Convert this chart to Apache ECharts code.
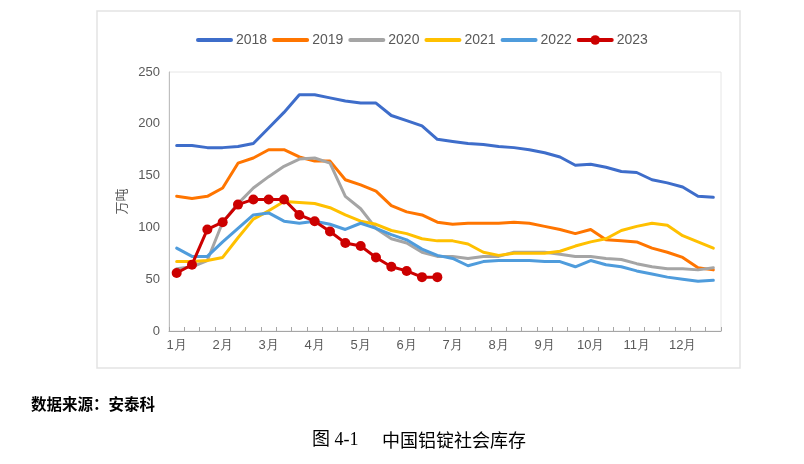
<!DOCTYPE html>
<html><head><meta charset="utf-8">
<script src="https://cdn.jsdelivr.net/npm/echarts@6/dist/echarts.min.js"></script>
<style>html,body{margin:0;padding:0;background:#fff;}#c{width:804px;height:464px;}</style>
</head><body><div id="c"></div>
<script>
const months = ['1月','2月','3月','4月','5月','6月','7月','8月','9月','10月','11月','12月'];
const categories = [];
for (let m = 0; m < 12; m++) { categories.push(months[m] + '上', months[m] + '中', months[m] + '下'); }
const yTicks = [0, 50, 100, 150, 200, 250];
const s2018 = [179,179,177,177,178,181,196,211,228,228,225,222,220,220,208,203,198,185,183,181,180,178,177,175,172,168,160,161,158,154,153,146,143,139,130,129];
const s2019 = [130,128,130,138,162,167,175,175,168,164,164,146,141,135,121,115,112,105,103,104,104,104,105,104,101,98,94,98,88,87,86,80,76,71,61,59];
const s2020 = [60,62,68,105,123,138,149,159,166,167,162,130,118,99,89,85,76,72,72,70,72,72,76,76,76,74,72,72,70,69,65,62,60,60,59,61];
const s2021 = [67,67,68,71,90,108,116,125,124,123,119,112,106,103,97,94,89,87,87,84,76,73,75,75,75,77,82,86,89,97,101,104,102,92,86,80];
const s2022 = [80,72,72,86,99,112,114,106,104,106,103,98,104,99,93,88,79,73,70,63,67,68,68,68,67,67,62,68,64,62,58,55,52,50,48,49];
const s2023 = [56,64,98,105,122,127,127,127,112,106,96,85,82,71,62,58,52,52];
const names = ['2018','2019','2020','2021','2022','2023'];
const colors = ['#3E6DCA','#FF7500','#A5A5A5','#FFC000','#4F9CDC','#CC0000'];
const seriesData = [s2018, s2019, s2020, s2021, s2022, s2023];

const chart = echarts.init(document.getElementById('c'));
const series = names.map((n, i) => ({
  name: n,
  type: 'line',
  data: seriesData[i],
  symbol: i === 5 ? 'circle' : 'none',
  symbolSize: 10,
  showSymbol: i === 5,
  lineStyle: { width: 3, color: colors[i], cap: 'round', join: 'round' },
  itemStyle: { color: colors[i] },
  z: i === 5 ? 10 : 2 + i,
  animation: false
}));
const legendData = names.map((n, i) => i === 5
  ? { name: n }
  : { name: n, itemStyle: { color: 'rgba(0,0,0,0)', borderWidth: 0, opacity: 0 } });
chart.setOption({
  animation: false,
  backgroundColor: '#fff',
  graphic: [
    { type: 'rect', shape: { x: 97, y: 11, width: 643, height: 357 }, style: { fill: 'none', stroke: '#e3e3e3', lineWidth: 1.5 }, silent: true },
    { type: 'text', left: 31, top: 396, style: { text: '数据来源：安泰科', font: 'bold 15.5px "Noto Sans CJK SC"', fill: '#000' } },
    { type: 'text', left: 312, top: 431, style: { text: '{a|图 4-1}', rich: { a: { font: '18px "Liberation Serif", "Noto Sans CJK SC"', fill: '#000' } } } },
    { type: 'text', left: 382, top: 431, style: { text: '中国铝锭社会库存', font: '18px "Noto Sans CJK SC"', fill: '#000' } }
  ],
  legend: {
    top: 28, left: 191,
    itemWidth: 33, itemHeight: 12, itemGap: 5,
    lineStyle: { width: 4, cap: 'round' },
    textStyle: { fontSize: 14, color: '#595959', fontFamily: 'Liberation Sans' },
    data: legendData
  },
  grid: { left: 169, right: 83, top: 72, bottom: 133, show: true, borderColor: '#e6e6e6', borderWidth: 1 },
  xAxis: {
    type: 'category',
    data: categories,
    boundaryGap: true,
    axisLine: { lineStyle: { color: '#a6a6a6', width: 1 } },
    axisTick: { show: true, inside: true, length: 4, interval: 0, lineStyle: { color: '#a6a6a6' } },
    axisLabel: {
      interval: 0, color: '#595959', fontSize: 13, margin: 8, fontFamily: 'Liberation Sans',
      formatter: (v, idx) => idx % 3 === 0 ? months[idx / 3] : ''
    },
    splitLine: { show: false }
  },
  yAxis: {
    type: 'value',
    min: yTicks[0], max: yTicks[yTicks.length - 1], interval: 50,
    name: '万吨', nameLocation: 'middle', nameGap: 35, nameRotate: 90,
    nameTextStyle: { color: '#595959', fontSize: 13, fontFamily: 'Noto Sans CJK SC' },
    axisLine: { show: true, lineStyle: { color: '#bfbfbf', width: 1 } },
    axisTick: { show: false },
    axisLabel: { color: '#595959', fontSize: 13, margin: 9, fontFamily: 'Liberation Sans' },
    splitLine: { show: false }
  },
  series: series
});
</script></body></html>
